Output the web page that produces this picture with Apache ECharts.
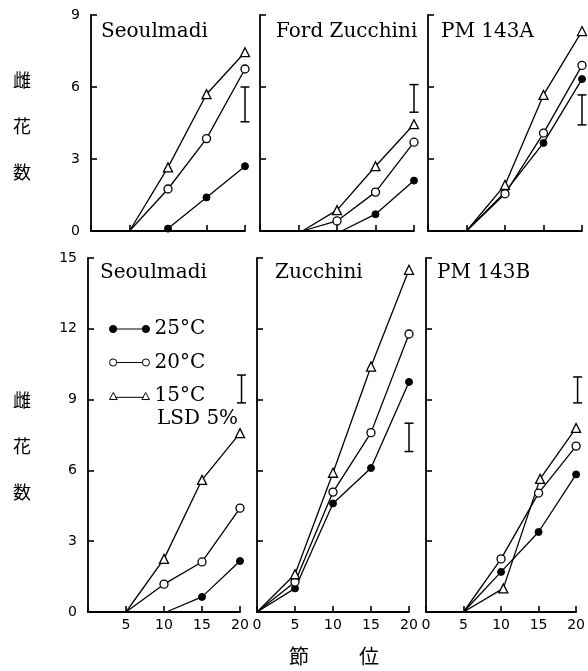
<!DOCTYPE html>
<html>
<head>
<meta charset="utf-8">
<script src="https://cdn.jsdelivr.net/npm/echarts@6/dist/echarts.min.js"></script>
<style>html,body{margin:0;padding:0;background:#fff}#c{width:588px;height:671px}</style>
</head>
<body>
<div id="c"></div>
<script>
// ---------- data ----------
const tempNames = ['25°C', '20°C', '15°C'];
const panelNames = ['Seoulmadi', 'Ford Zucchini', 'PM 143A', 'Seoulmadi', 'Zucchini', 'PM 143B'];
const xTickValues = [0, 5, 10, 15, 20];
const yTicksTop = [0, 3, 6, 9];
const yTicksBottom = [0, 3, 6, 9, 12, 15];
const yAxisTitle = '雌花数';
const xAxisTitle = ['節', '位'];
const lsdLabel = 'LSD 5%';

// top row: Seoulmadi
const seoulTop25 = [[10, 0.1], [15, 1.4], [20, 2.7]];
const seoulTop20 = [[5, 0], [10, 1.75], [15, 3.85], [20, 6.75]];
const seoulTop15 = [[5, 0], [10, 2.65], [15, 5.7], [20, 7.45]];
// top row: Ford Zucchini
const fordTop25 = [[10.6, 0], [15, 0.7], [20, 2.1]];
const fordTop20 = [[5.5, 0], [10, 0.42], [15, 1.62], [20, 3.7]];
const fordTop15 = [[5.5, 0], [10, 0.87], [15, 2.7], [20, 4.45]];
// top row: PM 143A
const pmaTop25 = [[5, 0], [10, 1.62], [15, 3.67], [20, 6.33]];
const pmaTop20 = [[5, 0], [10, 1.55], [15, 4.08], [20, 6.9]];
const pmaTop15 = [[5, 0], [10, 1.92], [15, 5.67], [20, 8.33]];
// bottom row: Seoulmadi
const seoulBot25 = [[10.3, 0], [15, 0.64], [20, 2.16]];
const seoulBot20 = [[5, 0], [10, 1.18], [15, 2.12], [20, 4.4]];
const seoulBot15 = [[5, 0], [10, 2.25], [15, 5.6], [20, 7.58]];
// bottom row: Zucchini
const zucBot25 = [[0, 0], [5, 1.0], [10, 4.6], [15, 6.1], [20, 9.75]];
const zucBot20 = [[0, 0], [5, 1.27], [10, 5.08], [15, 7.6], [20, 11.78]];
const zucBot15 = [[0, 0], [5, 1.6], [10, 5.9], [15, 10.4], [20, 14.5]];
// bottom row: PM 143B
const pmbBot25 = [[5, 0], [10, 1.7], [15, 3.39], [20, 5.83]];
const pmbBot20 = [[5, 0], [10, 2.25], [15, 5.04], [20, 7.03]];
const pmbBot15 = [[5, 0], [10.3, 1.0], [15.2, 5.64], [20, 7.8]];

// LSD 5% bars per panel
const lsdX = [20, 20, 20, 20.2, 20, 20.2];
const lsdLow = [4.55, 4.95, 4.42, 8.86, 6.8, 8.86];
const lsdHigh = [6.0, 6.1, 5.67, 10.04, 8.0, 9.96];

const panelSeries = [
  [seoulTop25, seoulTop20, seoulTop15],
  [fordTop25, fordTop20, fordTop15],
  [pmaTop25, pmaTop20, pmaTop15],
  [seoulBot25, seoulBot20, seoulBot15],
  [zucBot25, zucBot20, zucBot15],
  [pmbBot25, pmbBot20, pmbBot15]
];

// ---------- layout ----------
const gridBoxes = [
  {left: 91, top: 15, width: 154, height: 216},
  {left: 260, top: 15, width: 154, height: 216},
  {left: 428, top: 15, width: 154, height: 216},
  {left: 88, top: 258, width: 152, height: 354},
  {left: 257, top: 258, width: 152, height: 354},
  {left: 426, top: 258, width: 152, height: 354}
];
const titlePos = [
  [101, 22], [276, 22], [441, 22],
  [100, 263], [275, 263], [437, 263]
];

const serif = 'DejaVu Serif';
const sans = 'DejaVu Sans';
const cjk = 'Noto Sans CJK JP';

const symbolStyles = [
  {symbol: 'circle', size: 7, itemStyle: {color: '#000', borderColor: '#000', borderWidth: 1}},
  {symbol: 'circle', size: 8, itemStyle: {color: '#fff', borderColor: '#000', borderWidth: 1.3}},
  {symbol: 'triangle', size: 9, itemStyle: {color: '#fff', borderColor: '#000', borderWidth: 1.3}}
];

const grids = [], xAxes = [], yAxes = [], series = [], titles = [];
for (let p = 0; p < 6; p++) {
  const bottomRow = p >= 3;
  const firstCol = p % 3 === 0;
  grids.push(Object.assign({containLabel: false}, gridBoxes[p]));
  xAxes.push({
    type: 'value', gridIndex: p,
    min: xTickValues[0], max: xTickValues[xTickValues.length - 1], interval: 5,
    axisLine: {show: true, lineStyle: {color: '#000', width: 1.8}},
    axisTick: {show: true, inside: true, length: 6, lineStyle: {color: '#000', width: 1.6}},
    splitLine: {show: false},
    axisLabel: {
      show: bottomRow, margin: 6, color: '#000', fontFamily: sans, fontSize: 14,
      formatter: v => (firstCol && v === 0) ? '' : String(v)
    }
  });
  const yt = bottomRow ? yTicksBottom : yTicksTop;
  yAxes.push({
    type: 'value', gridIndex: p,
    min: yt[0], max: yt[yt.length - 1], interval: 3,
    axisLine: {show: true, lineStyle: {color: '#000', width: 1.8}},
    axisTick: {show: true, inside: true, length: 6, lineStyle: {color: '#000', width: 1.6}},
    splitLine: {show: false},
    axisLabel: {show: firstCol, margin: 11, color: '#000', fontFamily: sans, fontSize: 14}
  });
  for (let s = 0; s < 3; s++) {
    const st = symbolStyles[s];
    series.push({
      type: 'line', name: tempNames[s], xAxisIndex: p, yAxisIndex: p,
      data: panelSeries[p][s].map(d => d[1] === 0 ? {value: d, symbol: 'none'} : {value: d}),
      symbol: st.symbol, symbolSize: st.size, showSymbol: true,
      itemStyle: st.itemStyle,
      lineStyle: {color: '#000', width: 1.3},
      clip: false, z: 3, animation: false
    });
  }
  series.push({
    type: 'custom', name: lsdLabel, xAxisIndex: p, yAxisIndex: p,
    data: [[lsdX[p], lsdLow[p], lsdHigh[p]]],
    clip: false, animation: false,
    renderItem: (params, api) => {
      const hi = api.coord([api.value(0), api.value(2)]);
      const lo = api.coord([api.value(0), api.value(1)]);
      const w = 4.5;
      const st = {stroke: '#000', lineWidth: 1.5};
      return {type: 'group', children: [
        {type: 'line', shape: {x1: hi[0], y1: hi[1], x2: lo[0], y2: lo[1]}, style: st},
        {type: 'line', shape: {x1: hi[0] - w, y1: hi[1], x2: hi[0] + w, y2: hi[1]}, style: st},
        {type: 'line', shape: {x1: lo[0] - w, y1: lo[1], x2: lo[0] + w, y2: lo[1]}, style: st}
      ]};
    }
  });
  titles.push({
    text: panelNames[p], left: titlePos[p][0], top: titlePos[p][1], padding: 0,
    textStyle: {fontFamily: serif, fontSize: 20, fontWeight: 'normal', color: '#000'}
  });
}

// axis titles
const yTitleText = yAxisTitle.split('').join('\n');
titles.push({text: yTitleText, left: 13, top: 57, padding: 0,
  textStyle: {fontFamily: cjk, fontSize: 18, fontWeight: 'normal', color: '#000', lineHeight: 46}});
titles.push({text: yTitleText, left: 13, top: 377, padding: 0,
  textStyle: {fontFamily: cjk, fontSize: 18, fontWeight: 'normal', color: '#000', lineHeight: 46}});
titles.push({text: xAxisTitle[0], left: 289, top: 646, padding: 0,
  textStyle: {fontFamily: cjk, fontSize: 20, fontWeight: 'normal', color: '#000'}});
titles.push({text: xAxisTitle[1], left: 359, top: 646, padding: 0,
  textStyle: {fontFamily: cjk, fontSize: 20, fontWeight: 'normal', color: '#000'}});
titles.push({text: lsdLabel, left: 157, top: 409, padding: 0,
  textStyle: {fontFamily: serif, fontSize: 20, fontWeight: 'normal', color: '#000'}});

// legend icons (line with a marker at each end)
const iconCircles = 'path://M0.5,5A3.5,3.5 0 1,1 7.5,5A3.5,3.5 0 1,1 0.5,5Z M7.5,5L32.5,5 M32.5,5A3.5,3.5 0 1,1 39.5,5A3.5,3.5 0 1,1 32.5,5Z';
const iconTriangles = 'path://M4,1.2L7.8,8.2L0.2,8.2Z M6,6L34,6 M36,1.2L39.8,8.2L32.2,8.2Z';

const option = {
  backgroundColor: '#fff',
  animation: false,
  title: titles,
  grid: grids,
  xAxis: xAxes,
  yAxis: yAxes,
  legend: {
    orient: 'vertical', left: 109, top: 318, padding: 0,
    itemWidth: 40, itemHeight: 10, itemGap: 11.5,
    textStyle: {fontFamily: serif, fontSize: 20, color: '#000', lineHeight: 22},
    data: [
      {name: tempNames[0], icon: iconCircles, itemStyle: {color: '#000', borderColor: '#000', borderWidth: 1}},
      {name: tempNames[1], icon: iconCircles, itemStyle: {color: '#fff', borderColor: '#000', borderWidth: 1}},
      {name: tempNames[2], icon: iconTriangles, itemStyle: {color: '#fff', borderColor: '#000', borderWidth: 1}}
    ],
    selectedMode: false
  },
  series: series
};

const chart = echarts.init(document.getElementById('c'), null, {renderer: 'canvas'});
chart.setOption(option);
</script>
</body>
</html>
